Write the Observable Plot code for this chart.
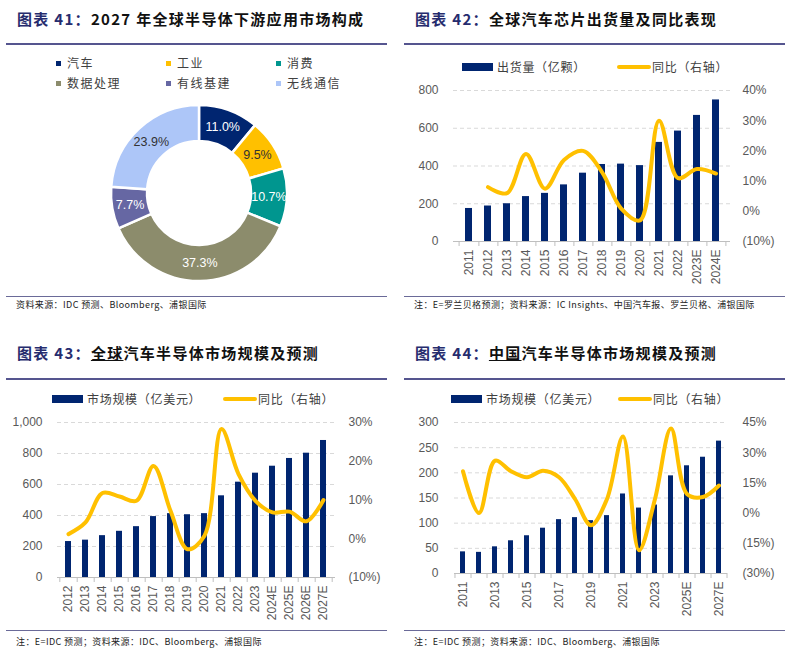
<!DOCTYPE html>
<html><head><meta charset="utf-8">
<script src="https://cdn.jsdelivr.net/npm/d3@7"></script>
<script src="https://cdn.jsdelivr.net/npm/@observablehq/plot@0.6"></script>
<style>
body{margin:0;background:#fff;width:785px;height:651px;position:relative;overflow:hidden;font-family:"Noto Sans CJK SC",sans-serif;}
.abs{position:absolute;}
.title{font-size:15px;font-weight:bold;letter-spacing:1.3px;color:#111;white-space:nowrap;line-height:1}
.title .num{color:#262C6E}
.rule{height:2px;background:#55558F}
.frule{height:1px;background:#6A6A98}
.foot{font-size:9px;color:#222;white-space:nowrap;letter-spacing:0.4px;line-height:1}
.leg{font-size:12px;color:#404040;letter-spacing:0.7px;white-space:nowrap;line-height:1}
.leg1{font-size:12px;color:#404040;letter-spacing:1.5px;white-space:nowrap;line-height:1}
.sq{width:5px;height:5px}
</style></head><body>
<script>
// ---------- DATA ----------
// Chart 41: 2027 global semiconductor downstream application mix (%)
const pieCats = ["汽车", "工业", "消费", "数据处理", "有线基建", "无线通信"];
const pieVals = [11.0, 9.5, 10.7, 37.3, 7.7, 23.9];

// Chart 42: global auto chip shipments (亿颗) and YoY (%)
const cats42 = ["2011","2012","2013","2014","2015","2016","2017","2018","2019","2020","2021","2022","2023E","2024E"];
const ship42 = [175, 188, 200, 238, 255, 300, 362, 408, 410, 402, 525, 585, 668, 750];
const yoy42  = [null, 8.0, 6.0, 19.0, 7.5, 17.0, 20.0, 13.0, 1.0, -3.0, 30.0, 11.0, 14.0, 12.5];

// Chart 43: global auto semiconductor market (亿美元) and YoY (%)
const cats43 = ["2012","2013","2014","2015","2016","2017","2018","2019","2020","2021","2022","2023","2024E","2025E","2026E","2027E"];
const mkt43  = [232, 241, 270, 298, 328, 393, 412, 405, 412, 527, 615, 673, 718, 768, 802, 884];
const yoy43  = [1.2, 4.2, 11.8, 10.9, 9.8, 18.8, 7.2, -2.7, 0.8, 28.3, 16.7, 9.8, 6.8, 7.0, 4.5, 10.0];

// Chart 44: China auto semiconductor market (亿美元) and YoY (%)
const cats44 = ["2011","2012","2013","2014","2015","2016","2017","2018","2019","2020","2021","2022","2023","2024E","2025E","2026E","2027E"];
const mkt44  = [43, 42, 53, 65, 75, 90, 107, 111, 105, 115, 158, 130, 136, 194, 214, 231, 263];
const yoy44  = [20.8, 0.0, 26.0, 20.8, 17.8, 21.0, 17.8, 7.0, -6.0, 7.0, 38.0, -18.5, 7.0, 42.0, 9.5, 8.0, 13.7];

// Text
const titles = [
  ["图表 41：", "2027 年全球半导体下游应用市场构成"],
  ["图表 42：", "全球汽车芯片出货量及同比表现"],
  ["图表 43：", "<u>全球</u>汽车半导体市场规模及预测"],
  ["图表 44：", "<u>中国</u>汽车半导体市场规模及预测"]
];
const foots = [
  "资料来源：IDC 预测、Bloomberg、浦银国际",
  "注：E=罗兰贝格预测；资料来源：IC Insights、中国汽车报、罗兰贝格、浦银国际",
  "注：E=IDC 预测；资料来源：IDC、Bloomberg、浦银国际",
  "注：E=IDC 预测；资料来源：IDC、Bloomberg、浦银国际"
];

// ---------- STYLE ----------
const NAVY = "#002570", GOLD = "#FFC000";
const pieColors = ["#002570", "#FFC000", "#00968F", "#8C8C6C", "#6667A3", "#ADC6F8"];
const pieText = ["#fff", "#333", "#fff", "#fff", "#fff", "#333"];

function add(html, cls, left, top, extra = "") {
  const d = document.createElement("div");
  d.className = "abs " + cls;
  d.style.left = left + "px"; d.style.top = top + "px";
  if (extra) d.style.cssText += extra;
  d.innerHTML = html;
  document.body.appendChild(d);
  return d;
}

// Titles, rules, footnotes
const panelX = [[17, 6], [415, 404], [17, 6], [415, 404]];
const titleTop = [11, 11, 345, 345];
const ruleTop = [43, 43, 378, 378];
const footRule = [296, 296, 630, 630];
const footTop = [300, 300, 637, 637];
for (let i = 0; i < 4; i++) {
  add(`<span class="num">${titles[i][0]}</span>${titles[i][1]}`, "title", panelX[i][0], titleTop[i]);
  add("", "rule", panelX[i][1], ruleTop[i], `width:${i % 2 ? 381 : 381}px`);
  add("", "frule", panelX[i][1], footRule[i], `width:381px`);
  add(foots[i], "foot", panelX[i][0] - 1, footTop[i]);
}

// ---------- Chart 41: donut ----------
const legPos = [[56, 177], [166, 177 + 110], [276, 287]];
pieCats.forEach((c, i) => {
  const col = i % 3, row = Math.floor(i / 3);
  const lx = [56, 166, 276][col], tx = [67, 177, 287][col];
  const cy = [63, 83][row];
  add("", "sq", lx, cy - 2, `background:${pieColors[i]}`);
  add(c, "leg1", tx, cy - 6);
});

const donut = Plot.plot({
  width: 398, height: 186, margin: 0,
  style: {background: "transparent", overflow: "visible"},
  marks: [
    (index, scales, values, dims) => {
      const W = dims.width, H = dims.height;
      const g = d3.create("svg:g").attr("transform", `translate(${W / 2},${H / 2})`);
      const pie = d3.pie().sort(null).value(d => d.v)(pieCats.map((c, i) => ({c, v: pieVals[i], i})));
      const arc = d3.arc().innerRadius(52).outerRadius(88);
      g.selectAll("path").data(pie).join("path")
        .attr("d", arc).attr("fill", d => pieColors[d.data.i])
        .attr("stroke", "#fff").attr("stroke-width", 2.5);
      g.selectAll("text").data(pie).join("text")
        .attr("transform", d => `translate(${arc.centroid(d)})`)
        .attr("text-anchor", "middle").attr("dominant-baseline", "central")
        .attr("fill", d => pieText[d.data.i])
        .style("font", "12.5px 'Liberation Sans', Arial, sans-serif")
        .text(d => d.data.v.toFixed(1) + "%");
      return g.node();
    }
  ]
});
add("", "", 0, 100).appendChild(donut);

// ---------- combo charts ----------
function fmtPct(v) { v = Math.round(v); return v < 0 ? `(${-v}%)` : `${v}%`; }

function combo({cats, bars, yoy, leftMax, leftStep, rMin, rMax, rStep, labelEvery, pad, width, height, mt, mb, ml, mr, padL, padR}) {
  const k = leftMax / (rMax - rMin);
  const toLeft = v => (v - rMin) * k;
  const data = cats.map((c, i) => ({c, v: bars[i], r: yoy[i]}));
  const step = (width - ml - mr) / cats.length;
  const rightTicks = d3.range(rMin, rMax + 0.001, rStep);
  return Plot.plot({
    width, height, marginTop: mt, marginBottom: mb, marginLeft: ml, marginRight: mr,
    style: {fontFamily: "'Liberation Sans', Arial, sans-serif", fontSize: "12px", color: "#595959", background: "transparent", overflow: "visible"},
    x: {type: "band", domain: cats, paddingInner: pad, paddingOuter: pad / 2},
    y: {domain: [0, leftMax]},
    marks: [
      Plot.ruleY(d3.range(leftStep, leftMax + 0.001, leftStep), {stroke: "#D9D9D9", strokeDasharray: "4,3"}),
      Plot.barY(data, {x: "c", y: "v", fill: NAVY}),
      Plot.ruleY([0], {stroke: "#BFBFBF"}),
      Plot.axisX({ticks: cats, tickSize: 5, tickFormat: () => "", dx: step / 2, stroke: "#BFBFBF", label: null}),
      Plot.axisX({ticks: [cats[0]], tickSize: 5, tickFormat: () => "", dx: -step / 2, stroke: "#BFBFBF", label: null}),
      Plot.axisX({ticks: cats.filter((d, i) => i % labelEvery === 0), tickSize: 0, tickPadding: 8, tickRotate: -90, label: null}),
      Plot.axisY({anchor: "left", ticks: d3.range(0, leftMax + 0.001, leftStep), tickSize: 0, tickPadding: padL, tickFormat: d3.format(","), label: null}),
      Plot.axisY({anchor: "right", ticks: rightTicks.map(toLeft), tickSize: 0, tickPadding: padR, tickFormat: v => fmtPct(v / k + rMin), label: null}),
      Plot.line(data.filter(d => d.r != null), {x: "c", y: d => toLeft(d.r), stroke: GOLD, strokeWidth: 4, curve: "catmull-rom"})
    ]
  });
}

function comboLegend(barText, bx, tx1, lx, tx2, cy) {
  add("", "", bx, cy - 4, `width:31px;height:8px;background:${NAVY}`);
  add(barText, "leg", tx1, cy - 6);
  add("", "", lx, cy - 2, `width:34px;height:4px;background:${GOLD};border-radius:2px`);
  add("同比（右轴）", "leg", tx2, cy - 6);
}

// Chart 42
comboLegend("出货量（亿颗）", 462, 497, 617, 652, 67);
add("", "", 395, 80).appendChild(combo({
  cats: cats42, bars: ship42, yoy: yoy42, leftMax: 800, leftStep: 200, rMin: -10, rMax: 40, rStep: 10,
  labelEvery: 1, pad: 0.64, width: 390, height: 215, mt: 10, mb: 54, ml: 58, mr: 55, padL: 15, padR: 12
}));

// Chart 43
comboLegend("市场规模（亿美元）", 52, 87, 223, 258, 399);
add("", "", 0, 412).appendChild(combo({
  cats: cats43, bars: mkt43, yoy: yoy43, leftMax: 1000, leftStep: 200, rMin: -10, rMax: 30, rStep: 10,
  labelEvery: 1, pad: 0.62, width: 395, height: 215, mt: 10, mb: 50, ml: 57, mr: 60, padL: 15, padR: 13
}));

// Chart 44
comboLegend("市场规模（亿美元）", 451, 486, 618, 653, 399);
add("", "", 395, 412).appendChild(combo({
  cats: cats44, bars: mkt44, yoy: yoy44, leftMax: 300, leftStep: 50, rMin: -30, rMax: 45, rStep: 15,
  labelEvery: 2, pad: 0.66, width: 390, height: 215, mt: 10, mb: 54, ml: 59, mr: 58, padL: 16, padR: 15
}));
</script>
</body></html>
